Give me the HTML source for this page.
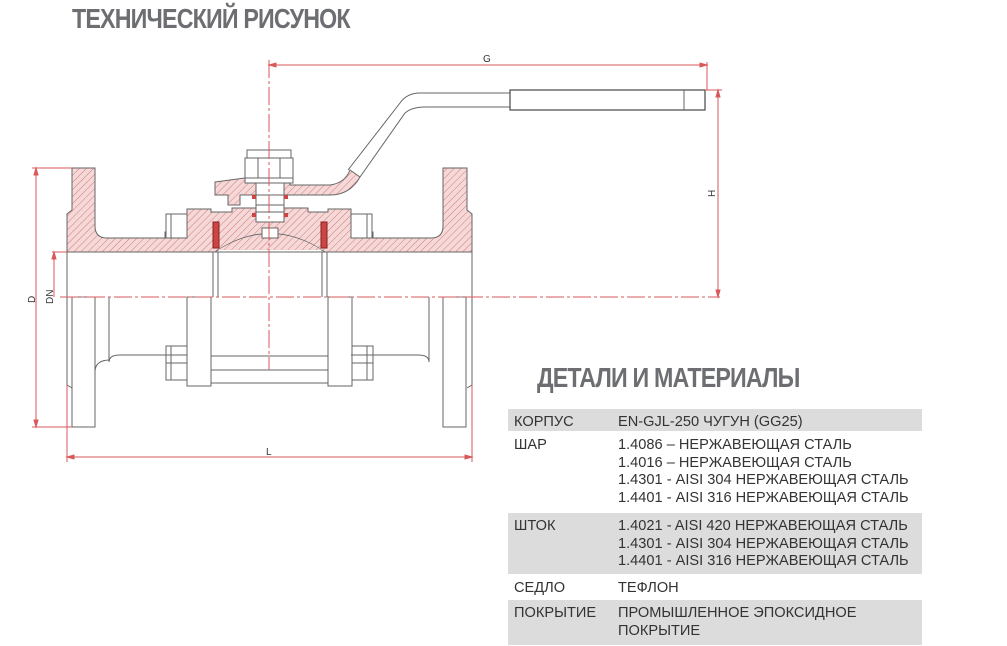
<!DOCTYPE html>
<html><head><meta charset="utf-8"><style>
body{margin:0;background:#fff;width:1007px;height:646px;overflow:hidden;position:relative;font-family:"Liberation Sans",sans-serif}
.t{position:absolute;font-family:"Liberation Sans Narrow","Liberation Sans",sans-serif;font-weight:bold;color:#6d6e71;letter-spacing:-1px;white-space:nowrap}
.row{position:absolute;left:508px;width:414px;font-size:14.6px;color:#333;line-height:17.6px}
.row .a{position:absolute;left:6px;top:5px}
.row .b{position:absolute;left:110px;top:5px;white-space:nowrap}
.g{background:#dcdcdc}
</style></head><body>
<div class="t" style="left:72px;top:3px;font-size:28px;transform:scaleX(.83);transform-origin:left">ТЕХНИЧЕСКИЙ РИСУНОК</div>
<div class="t" style="left:537px;top:362px;font-size:28px;transform:scaleX(.83);transform-origin:left">ДЕТАЛИ И МАТЕРИАЛЫ</div>

<svg width="1007" height="646" style="position:absolute;left:0;top:0">
<defs><pattern id="h" width="5" height="5" patternUnits="userSpaceOnUse" patternTransform="rotate(45)"><rect width="5" height="5" fill="#f5d8d8"/><line x1="0" y1="0" x2="0" y2="5" stroke="#d77878" stroke-width="1"/></pattern></defs>
<g stroke="#666" stroke-width="1" fill="none">
<path fill="url(#h)" d="M72,168 L95,168 L95,226 Q95,238 107,238 L165,238 L165,232 L187,232 L187,209 L211,209 L211,212 L232,212 L232,208 L308,208 L308,212 L328,212 L328,209 L351,209 L351,232 L373,232 L373,238 L431,238 Q443,238 443,226 L443,168 L467,168 L467,210 L472,214 L472,252 L67,252 L67,214 L72,210 Z"/>
<path fill="#fff" d="M215,252 Q270,215 325,252 Z" stroke="#666"/>
<path fill="url(#h)" d="M218,250 Q270,218 322,250 Z" stroke="none"/>
<rect x="213" y="222" width="6" height="26" fill="#c44" stroke="#822"/>
<rect x="321" y="222" width="6" height="26" fill="#c44" stroke="#822"/>
<path fill="url(#h)" d="M215,182 L245,178 L290,178 L290,185 L330,185 Q345,183 350,170 L360,177 Q350,195 330,195 L240,195 L240,205 L228,205 L228,195 L215,195 Z"/>
<rect x="256" y="182" width="28" height="40" fill="#fff"/>
<line x1="256" y1="195" x2="284" y2="195"/><line x1="256" y1="205" x2="284" y2="205"/><line x1="256" y1="212" x2="284" y2="212"/>
<rect x="252" y="195" width="4" height="4" fill="#c44" stroke="none"/><rect x="284" y="195" width="4" height="4" fill="#c44" stroke="none"/>
<rect x="252" y="213" width="4" height="4" fill="#c44" stroke="none"/><rect x="284" y="213" width="4" height="4" fill="#c44" stroke="none"/>
<rect x="262" y="228" width="16" height="10" fill="#fff"/>
<rect x="245" y="158" width="48" height="20" fill="#fff"/>
<line x1="258" y1="158" x2="258" y2="178"/><line x1="280" y1="158" x2="280" y2="178"/>
<rect x="247" y="150" width="44" height="8" fill="#fff"/>
<rect x="245" y="178" width="48" height="5" fill="#fff"/>
<path d="M348,170 L400,103 Q407,93 420,93 L510,93"/>
<path d="M360,177 L405,113 Q412,107 425,107 L510,107"/>
<rect x="510" y="90" width="195" height="20" stroke="#555" stroke-width="1.3"/>
<line x1="684" y1="90" x2="684" y2="110"/>
<rect x="166" y="214" width="21" height="24" fill="#fff"/><line x1="171" y1="214" x2="171" y2="238"/>
<rect x="351" y="214" width="21" height="24" fill="#fff"/><line x1="367" y1="214" x2="367" y2="238"/>
<path d="M67,252 L67,385 L72,388 M472,252 L472,385 L467,388"/>
<rect x="72" y="297" width="23" height="130"/>
<rect x="443" y="297" width="23" height="130"/>
<path d="M95,297 L95,367 M443,297 L443,367"/>
<path d="M109,297 L109,362 Q109,355 120,355 L187,355 M429,297 L429,362 Q429,355 418,355 L351,355"/>
<path d="M95,372 Q95,360 110,360"/>
<rect x="187" y="297" width="24" height="89"/>
<rect x="328" y="297" width="24" height="89"/>
<rect x="211" y="356" width="117" height="27"/>
<line x1="211" y1="370" x2="328" y2="370"/>
<rect x="166" y="346" width="21" height="34"/><line x1="171" y1="346" x2="171" y2="380"/><line x1="166" y1="363" x2="187" y2="363"/>
<rect x="352" y="346" width="21" height="34"/><line x1="367" y1="346" x2="367" y2="380"/><line x1="352" y1="363" x2="373" y2="363"/>
<path d="M213,252 L213,297 M218,252 L218,297 M322,252 L322,297 M327,252 L327,297"/>
</g>
<g stroke="#d9585c" stroke-width="1" fill="#d9585c">
<line x1="269" y1="60" x2="269" y2="370" stroke-dasharray="18,3,3,3" fill="none"/>
<line x1="269" y1="65" x2="707" y2="65" fill="none"/>
<line x1="707" y1="62" x2="707" y2="90" fill="none"/>
<line x1="60" y1="297" x2="720" y2="297" stroke-dasharray="18,3,3,3" fill="none"/>
<line x1="705" y1="90" x2="722" y2="90" fill="none"/>
<line x1="718" y1="90" x2="718" y2="297" fill="none"/>
<path d="M718,90 l-2,7 h4z M718,297 l-2,-7 h4z M269,65 l7,-2 v4z M707,65 l-7,-2 v4z"/>
<line x1="32" y1="168" x2="72" y2="168" fill="none"/>
<line x1="32" y1="427" x2="72" y2="427" fill="none"/>
<line x1="36" y1="168" x2="36" y2="427" fill="none"/>
<path d="M36,168 l-2,7 h4z M36,427 l-2,-7 h4z"/>
<line x1="52" y1="252" x2="67" y2="252" fill="none"/>
<line x1="54" y1="252" x2="54" y2="297" fill="none"/>
<path d="M54,252 l-2,7 h4z"/>
<line x1="67" y1="385" x2="67" y2="462" fill="none"/>
<line x1="472" y1="385" x2="472" y2="462" fill="none"/>
<line x1="67" y1="457" x2="472" y2="457" fill="none"/>
<path d="M67,457 l7,-2 v4z M472,457 l-7,-2 v4z"/>
</g>
<g font-family="Liberation Sans" font-size="10" fill="#333">
<text x="483" y="62">G</text>
<text x="266" y="455">L</text>
<text transform="translate(715,197) rotate(-90)">H</text>
<text transform="translate(35,303) rotate(-90)">D</text>
<text transform="translate(53,304) rotate(-90)">DN</text>
</g>
</svg>

<div class="row g" style="top:409px;height:22px"><span class="a">КОРПУС</span><span class="b">EN-GJL-250 ЧУГУН (GG25)</span></div>
<div class="row" style="top:432px;height:79px"><span class="a">ШАР</span><span class="b">1.4086 – НЕРЖАВЕЮЩАЯ СТАЛЬ<br>1.4016 – НЕРЖАВЕЮЩАЯ СТАЛЬ<br>1.4301 - AISI 304 НЕРЖАВЕЮЩАЯ СТАЛЬ<br>1.4401 - AISI 316 НЕРЖАВЕЮЩАЯ СТАЛЬ</span></div>
<div class="row g" style="top:513px;height:61px"><span class="a">ШТОК</span><span class="b">1.4021 - AISI 420 НЕРЖАВЕЮЩАЯ СТАЛЬ<br>1.4301 - AISI 304 НЕРЖАВЕЮЩАЯ СТАЛЬ<br>1.4401 - AISI 316 НЕРЖАВЕЮЩАЯ СТАЛЬ</span></div>
<div class="row" style="top:575px;height:22px"><span class="a">СЕДЛО</span><span class="b">ТЕФЛОН</span></div>
<div class="row g" style="top:600px;height:45px"><span class="a">ПОКРЫТИЕ</span><span class="b">ПРОМЫШЛЕННОЕ ЭПОКСИДНОЕ<br>ПОКРЫТИЕ</span></div>
</body></html>
